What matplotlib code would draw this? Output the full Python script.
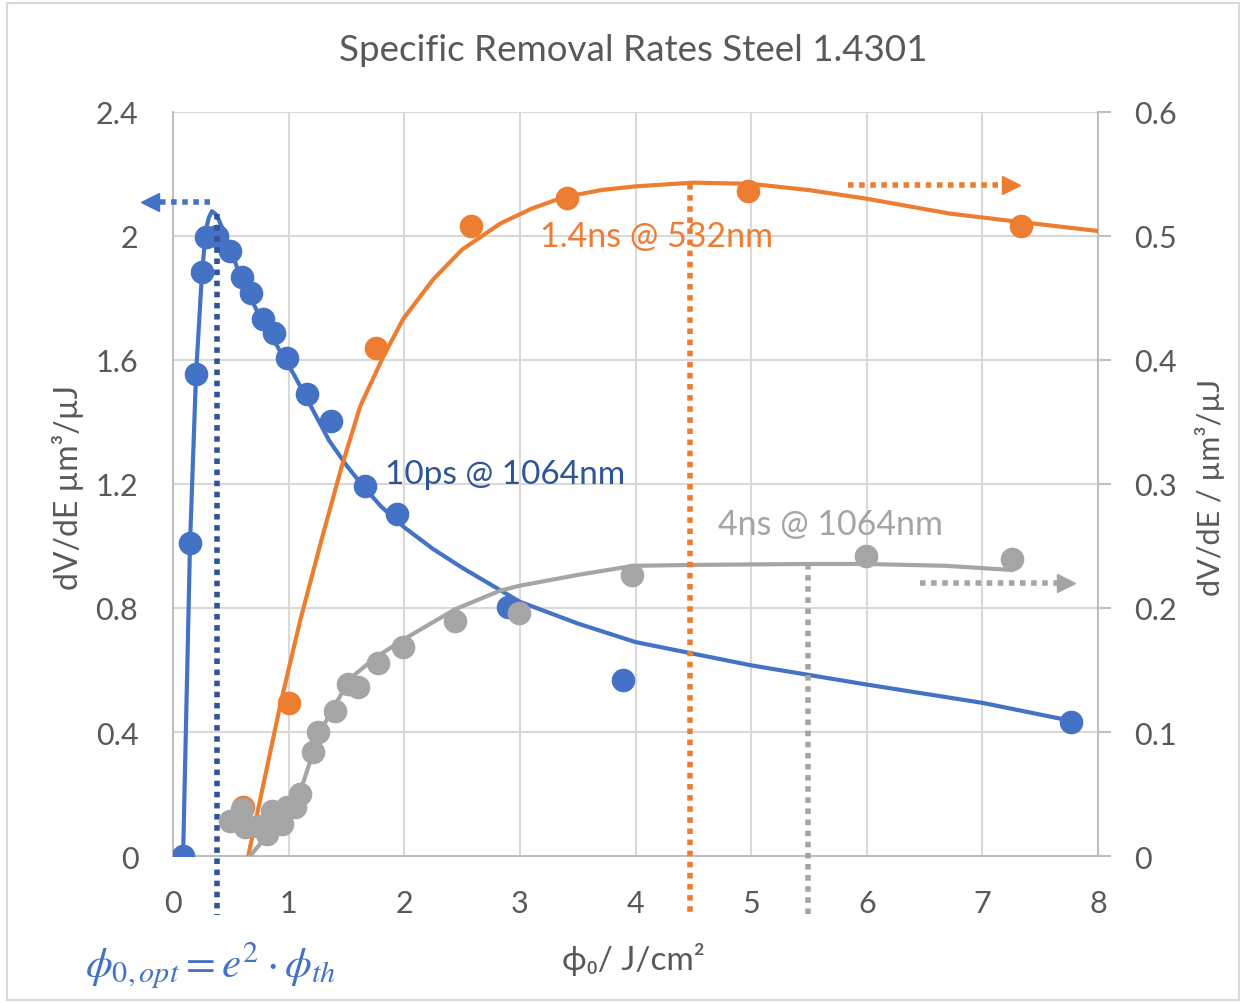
import matplotlib
matplotlib.use("Agg")
import matplotlib.pyplot as plt
from matplotlib.patches import Rectangle

plt.rcParams['font.family'] = ['Lato', 'DejaVu Sans']
plt.rcParams['mathtext.fontset'] = 'stix'

BLUE = '#4472C4'
DARK_BLUE = '#2F5597'
ORANGE = '#ED7D31'
GRAY = '#A5A5A5'
TEXT = '#595959'
GRID = '#D9D9D9'

# 10ps @ 1064nm, left axis
ps_x = [0.087, 0.147, 0.199, 0.251, 0.285, 0.38, 0.493, 0.597, 0.675, 0.779,
        0.874, 0.986, 1.159, 1.367, 1.661, 1.938, 2.898, 3.893, 7.768]
ps_y = [0.0, 1.01, 1.555, 1.884, 1.997, 2.0, 1.952, 1.868, 1.816, 1.732,
        1.687, 1.606, 1.49, 1.403, 1.194, 1.103, 0.803, 0.568, 0.432]
ps_fit_x = [0.087, 0.147, 0.199, 0.251, 0.285, 0.31, 0.337, 0.37, 0.398, 0.467,
            0.58, 0.75, 0.9, 1.05, 1.2, 1.35, 1.5, 1.65, 1.8, 2.0, 2.25, 2.5,
            3.0, 3.5, 4.0, 5.0, 6.0, 7.0, 7.78]
ps_fit_y = [0.0, 1.01, 1.555, 1.884, 2.02, 2.06, 2.08, 2.07, 2.05, 1.99,
            1.87, 1.74, 1.645, 1.55, 1.445, 1.34, 1.26, 1.19, 1.127, 1.06, 0.99,
            0.93, 0.82, 0.75, 0.69, 0.615, 0.553, 0.494, 0.435]

# 1.4ns @ 532nm, right axis
ns14_x = [0.606, 1.003, 1.756, 2.578, 3.408, 4.974, 7.336]
ns14_y = [0.0395, 0.123, 0.41, 0.508, 0.531, 0.536, 0.508]
ns14_fit_x = [0.65, 0.93, 1.1, 1.29, 1.46, 1.62, 1.82, 1.99, 2.25, 2.5, 2.83,
              3.1, 3.37, 3.7, 4.0, 4.5, 5.0, 5.5, 6.0, 6.72, 7.35, 8.0]
ns14_fit_y = [0.0, 0.123, 0.19, 0.257, 0.3145, 0.363, 0.403, 0.433, 0.465, 0.489,
              0.51, 0.522, 0.531, 0.537, 0.54, 0.543, 0.542, 0.537, 0.530, 0.518,
              0.511, 0.504]

# 4ns @ 1064nm, right axis
ns4_x = [0.493, 0.597, 0.623, 0.735, 0.813, 0.856, 0.943, 0.986, 1.055, 1.099,
         1.211, 1.254, 1.401, 1.514, 1.6, 1.773, 1.99, 2.439, 2.993, 3.97,
         5.995, 7.258]
ns4_y = [0.028, 0.038, 0.023, 0.024, 0.018, 0.036, 0.026, 0.0395, 0.0395, 0.05,
         0.084, 0.1, 0.117, 0.139, 0.136, 0.156, 0.1685, 0.1895, 0.196, 0.227,
         0.242, 0.2395]
ns4_fit_x = [0.666, 0.8, 0.95, 1.1, 1.27, 1.53, 1.75, 2.0, 2.44, 2.83, 3.0,
             3.52, 3.98, 4.47, 5.49, 6.0, 6.69, 7.26]
ns4_fit_y = [0.0, 0.015, 0.035, 0.052, 0.1, 0.143, 0.16, 0.175, 0.199, 0.214,
             0.218, 0.227, 0.234, 0.2347, 0.2355, 0.2355, 0.234, 0.2306]

# optimum fluences
opt_ps = 0.378
opt_ns14 = 4.47
opt_ns4 = 5.49

fig = plt.figure(figsize=(12.44, 10.04), dpi=100)
fig.patches.append(Rectangle((0.006, 0.003), 0.99, 0.993, transform=fig.transFigure,
                             fill=False, edgecolor=GRID, lw=1.5))
ax = fig.add_axes([0.1391, 0.1464, 0.7436, 0.7411])
ax2 = ax.twinx()

ax.set_xlim(0, 8)
ax.set_ylim(0, 2.4)
ax2.set_ylim(0, 0.6)
ax.set_xticks(range(9))
ax.set_yticks([0, 0.4, 0.8, 1.2, 1.6, 2.0, 2.4])
ax.set_yticklabels(['0', '0.4', '0.8', '1.2', '1.6', '2', '2.4'])
ax2.set_yticks([0, 0.1, 0.2, 0.3, 0.4, 0.5, 0.6])
ax2.set_yticklabels(['0', '0.1', '0.2', '0.3', '0.4', '0.5', '0.6'])

ax.grid(True, color=GRID, lw=1.5)
ax.set_axisbelow(True)
ax.spines['top'].set_visible(False)
ax2.spines['top'].set_visible(False)
ax.spines['left'].set_color('#BFBFBF')
ax.spines['bottom'].set_color('#BFBFBF')
ax.spines['right'].set_visible(False)
ax2.spines['left'].set_visible(False)
ax2.spines['bottom'].set_visible(False)
ax2.spines['right'].set_color('#BFBFBF')
for sp in [ax.spines['left'], ax.spines['bottom'], ax2.spines['right']]:
    sp.set_linewidth(1.5)

ax.tick_params(axis='x', length=0, pad=24, labelsize=22, labelcolor=TEXT)
ax.tick_params(axis='y', length=0, pad=25, labelsize=22, labelcolor=TEXT)
ax2.tick_params(axis='y', length=9, width=1.5, color='#BFBFBF', pad=17,
                labelsize=22, labelcolor=TEXT)

# fitted curves
ax.plot(ps_fit_x, ps_fit_y, color=BLUE, lw=3, solid_capstyle='round',
        solid_joinstyle='round', zorder=3)
ax2.plot(ns14_fit_x, ns14_fit_y, color=ORANGE, lw=3, solid_capstyle='round',
         solid_joinstyle='round', zorder=3)
ax2.plot(ns4_fit_x, ns4_fit_y, color=GRAY, lw=3, solid_capstyle='round',
         solid_joinstyle='round', zorder=3)

# measured points
ax.plot(ps_x, ps_y, 'o', color=BLUE, ms=16, zorder=4)
ax2.plot(ns14_x, ns14_y, 'o', color=ORANGE, ms=16, zorder=4)
ax2.plot(ns4_x, ns4_y, 'o', color=GRAY, ms=16, zorder=5)

# optimum markers reaching below the axis
dot = (0, (1, 1))
ax.plot([opt_ps, opt_ps], [2.07, -0.19], color=DARK_BLUE, lw=4, ls=dot,
        clip_on=False, zorder=6)
ax2.plot([opt_ns14, opt_ns14], [0.542, -0.047], color=ORANGE, lw=4, ls=dot,
         clip_on=False, zorder=6)
ax2.plot([opt_ns4, opt_ns4], [0.2355, -0.047], color=GRAY, lw=4, ls=dot,
         clip_on=False, zorder=6)

# axis indicator arrows
ax.plot([0.32, -0.18], [2.11, 2.11], color=BLUE, lw=4, ls=dot, clip_on=False, zorder=6)
ax.plot([-0.2], [2.11], marker='<', color=BLUE, ms=13, clip_on=False, zorder=6)
ax2.plot([5.84, 7.22], [0.541, 0.541], color=ORANGE, lw=4, ls=dot, clip_on=False, zorder=6)
ax2.plot([7.25], [0.541], marker='>', color=ORANGE, ms=13, clip_on=False, zorder=6)
ax2.plot([6.46, 7.68], [0.22, 0.22], color=GRAY, lw=4, ls=dot, clip_on=False, zorder=6)
ax2.plot([7.72], [0.22], marker='>', color=GRAY, ms=13, clip_on=False, zorder=6)

# series labels
ax.text(1.83, 1.232, '10ps @ 1064nm', color=DARK_BLUE, fontsize=24, va='center', zorder=7)
ax2.text(3.17, 0.5, '1.4ns @ 532nm', color=ORANGE, fontsize=24.5, va='center', zorder=7)
ax2.text(4.71, 0.268, '4ns @ 1064nm', color=GRAY, fontsize=24.5, va='center', zorder=7)

fig.text(0.509, 0.95, 'Specific Removal Rates Steel 1.4301', ha='center', va='center',
         fontsize=26.5, color=TEXT)
fig.text(0.509, 0.044, 'ϕ₀/ J/cm²', ha='center', va='center', fontsize=24, color=TEXT)
fig.text(0.055, 0.515, 'dV/dE µm³/µJ', rotation=90, ha='center', va='center',
         fontsize=23, color=TEXT)
fig.text(0.973, 0.515, 'dV/dE / µm³/µJ', rotation=90, ha='center', va='center',
         fontsize=22, color=TEXT)
fig.text(0.068, 0.039, r'$\phi_{0,opt}=e^2\cdot\phi_{th}$', ha='left', va='center',
         fontsize=31, color=BLUE)

fig.savefig('out.png', dpi=100)
